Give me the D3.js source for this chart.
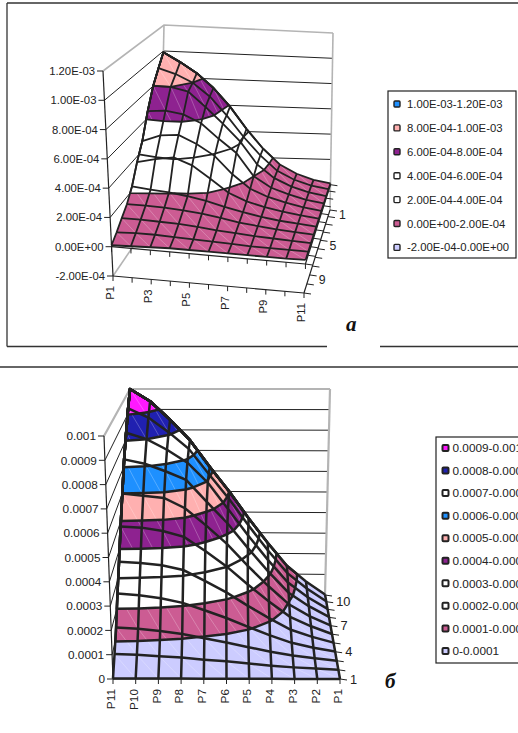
<!DOCTYPE html>
<meta charset="utf-8">
<style>
body { margin: 0; background: #fff; overflow: hidden; }
text { font-family: "Liberation Sans", Arial, sans-serif; fill: #222; }
.mark { font-family: "Liberation Serif", serif; font-weight: bold; font-style: italic; font-size: 21px; fill: #111; }
</style>
<svg id="chart" width="518" height="733"></svg>
<script src="https://d3js.org/d3.v7.min.js"></script>
<script>
// chart a: rows go from the back wall to the front, columns P1..P11, values in 1E-04
var categoriesA = ["P1","P2","P3","P4","P5","P6","P7","P8","P9","P10","P11"]
var depthLabelsA = ["1","","","","5","","","","9","",""]
var zTicksA = [-2, 0, 2, 4, 6, 8, 10, 12]
var zLabelsA = ["-2.00E-04","0.00E+00","2.00E-04","4.00E-04","6.00E-04","8.00E-04","1.00E-03","1.20E-03"]
var surfaceA = [
  [9.9, 9.2, 8.4, 7.3, 5.9, 4.2, 2.7, 1.5, 0.8, 0.35, 0.1],
  [9.0, 8.6, 8.0, 7.0, 5.6, 4.0, 2.6, 1.45, 0.8, 0.38, 0.14],
  [8.0, 8.0, 7.7, 6.6, 5.4, 4.1, 2.4, 1.4, 0.8, 0.4, 0.16],
  [6.5, 6.6, 6.4, 5.8, 4.7, 3.7, 2.0, 1.2, 0.75, 0.4, 0.18],
  [4.7, 5.2, 5.3, 4.7, 3.9, 2.6, 1.6, 1.05, 0.7, 0.4, 0.2],
  [3.6, 3.9, 4.1, 3.6, 2.7, 1.75, 1.2, 0.85, 0.6, 0.4, 0.22],
  [2.3, 2.15, 2.05, 1.85, 1.6, 1.25, 0.95, 0.7, 0.5, 0.38, 0.24],
  [1.5, 1.5, 1.45, 1.35, 1.2, 1.0, 0.75, 0.6, 0.45, 0.35, 0.26],
  [1.0, 1.0, 0.95, 0.9, 0.8, 0.65, 0.55, 0.45, 0.38, 0.32, 0.26],
  [0.5, 0.55, 0.55, 0.5, 0.45, 0.4, 0.35, 0.3, 0.28, 0.27, 0.26],
  [0.1, 0.15, 0.2, 0.25, 0.25, 0.25, 0.25, 0.25, 0.25, 0.25, 0.28]
]
var thresholdsA = [2, 4, 6, 8, 10]
var bandColorsA = ["#cc5c93", "#ffffff", "#ffffff", "#8e2290", "#ffb0b0", "#1e90ff"]
var legendLabelsA = ["1.00E-03-1.20E-03","8.00E-04-1.00E-03","6.00E-04-8.00E-04","4.00E-04-6.00E-04","2.00E-04-4.00E-04","0.00E+00-2.00E-04","-2.00E-04-0.00E+00"]
var legendColorsA = ["#1e90ff","#ffb0b0","#8e2290","#ffffff","#ffffff","#cc5c93","#ccccff"]

// chart b: same layout, columns run P11..P1 left to right
var categoriesB = ["P11","P10","P9","P8","P7","P6","P5","P4","P3","P2","P1"]
var depthLabelsB = ["","10","","","7","","","4","","","1"]
var zTicksB = [0, 1, 2, 3, 4, 5, 6, 7, 8, 9, 10]
var zLabelsB = ["0","0.0001","0.0002","0.0003","0.0004","0.0005","0.0006","0.0007","0.0008","0.0009","0.001"]
var surfaceB = [
  [10, 9.4, 8.5, 7.5, 6.2, 5, 3.7, 2.5, 1.4, 0.65, 0.02],
  [9.25, 8.8, 8.1, 7.3, 6.09, 4.92, 3.63, 2.43, 1.35, 0.62, 0.02],
  [8.3, 8.0, 7.5, 6.89, 5.95, 4.7, 3.46, 2.3, 1.25, 0.56, 0.02],
  [7.3, 7.1, 6.75, 6.35, 5.33, 4.34, 3.19, 2.1, 1.13, 0.51, 0.02],
  [6.0, 5.9, 5.8, 5.33, 4.55, 3.71, 2.71, 1.78, 0.95, 0.42, 0.01],
  [4.8, 4.75, 4.6, 4.34, 3.71, 3.02, 2.21, 1.45, 0.77, 0.35, 0.01],
  [3.55, 3.5, 3.4, 3.19, 2.71, 2.21, 1.62, 1.07, 0.57, 0.26, 0.01],
  [2.5, 2.43, 2.3, 2.1, 1.78, 1.45, 1.07, 0.7, 0.38, 0.17, 0.01],
  [1.4, 1.35, 1.25, 1.13, 0.95, 0.77, 0.57, 0.38, 0.22, 0.1, 0],
  [0.65, 0.62, 0.56, 0.51, 0.42, 0.35, 0.26, 0.17, 0.1, 0.05, 0],
  [0.02, 0.02, 0.02, 0.02, 0.01, 0.01, 0.01, 0.01, 0, 0, 0]
]
var thresholdsB = [1, 2, 3, 4, 5, 6, 7, 8, 9]
var bandColorsB = ["#ccccff", "#cc5c93", "#ffffff", "#ffffff", "#8e2290", "#ffb0b0", "#1e90ff", "#ffffff", "#2020b0", "#ff19ff"]
var legendLabelsB = ["0.0009-0.001","0.0008-0.0009","0.0007-0.0008","0.0006-0.0007","0.0005-0.0006","0.0004-0.0005","0.0003-0.0004","0.0002-0.0003","0.0001-0.0002","0-0.0001"]
var legendColorsB = ["#ff19ff","#2020b0","#ffffff","#1e90ff","#ffb0b0","#8e2290","#ffffff","#ffffff","#cc5c93","#ccccff"]

var svg = d3.select("#chart")
var ink = "#222"
var wall = "#b4b4b4"

function lerp(a, b, t) { return [a[0] + (b[0] - a[0]) * t, a[1] + (b[1] - a[1]) * t] }

// trilinear box: the eight corners of the chart cube on screen
function makeProjection(box, zExtent) {
  var u = d3.scaleLinear().domain([0, 10]).range([0, 1])
  var v = d3.scalePow().exponent(1.1).domain([0, 10]).range([0, 1])
  var w = d3.scaleLinear().domain(zExtent).range([0, 1])
  return function(i, j, z) {
    var t = w(z)
    var bl = lerp(box.backLeft[0], box.backLeft[1], t)
    var br = lerp(box.backRight[0], box.backRight[1], t)
    var fl = lerp(box.frontLeft[0], box.frontLeft[1], t)
    var fr = lerp(box.frontRight[0], box.frontRight[1], t)
    return lerp(lerp(bl, br, u(i)), lerp(fl, fr, u(i)), v(j))
  }
}

function drawSurfaceChart(cfg) {
  var g = svg.append("g")
  var grid = cfg.surface
  var n = grid.length
  var zMin = cfg.zTicks[0], zMax = cfg.zTicks[cfg.zTicks.length - 1]
  var project = makeProjection(cfg.box, [zMin, zMax])
  var line = d3.line()
  var idx = d3.range(n)

  function seg(points, color, width) {
    g.append("path").attr("d", line(points)).attr("fill", "none")
      .attr("stroke", color).attr("stroke-width", width)
  }

  // walls
  cfg.zTicks.forEach(function(z, k) {
    if (z == zMin) return
    if (z == zMax) return
    seg([project(0, 10, z), project(0, 0, z), project(10, 0, z)], ink, 1)
  })
  seg([project(0, 10, zMax), project(0, 0, zMax), project(10, 0, zMax)], wall, cfg.wallWidth)
  seg([project(0, 0, zMax), project(0, 0, zMin)], wall, cfg.wallWidth)
  seg([project(10, 0, zMax), project(10, 0, zMin)], wall, cfg.wallWidth)
  seg([project(0, 10, zMin), project(0, 0, zMin)], wall, cfg.wallWidth)

  // axes
  seg([project(0, 10, zMax), project(0, 10, zMin)], ink, 1.2)
  cfg.zTicks.forEach(function(z, k) {
    var p = project(0, 10, z)
    seg([p, [p[0] - 6, p[1]]], ink, 1)
    g.append("text").attr("x", p[0] - 8).attr("y", p[1]).attr("dy", "0.36em")
      .attr("text-anchor", "end").style("font-size", cfg.fontSize + "px").text(cfg.zLabels[k])
  })
  var floors = zMin < 0 ? [zMin, 0] : [0]
  floors.forEach(function(z) {
    seg([project(0, 10, z), project(10, 10, z)], ink, 1.2)
    seg([project(10, 10, z), project(10, 0, z)], ink, 1.2)
    idx.forEach(function(i) {
      var p = project(i, 10, z)
      seg([p, [p[0], p[1] + 5]], ink, 1)
      var q = project(10, i, z)
      seg([q, [q[0] + 7, q[1] + 1]], ink, 1)
    })
  })
  idx.forEach(function(i) {
    if (!cfg.categoryShown(i)) return
    var p = project(i, 10, zMin)
    g.append("text").attr("transform", "translate(" + (p[0] + cfg.catOffset[0]) + "," + (p[1] + cfg.catOffset[1]) + ") rotate(-90)")
      .attr("text-anchor", "end").attr("dy", "0.36em").style("font-size", cfg.fontSize + "px").text(cfg.categories[i])
  })
  cfg.depthLabels.forEach(function(label, j) {
    if (!label) return
    var p = project(10, j, zMin)
    g.append("text").attr("x", p[0] + cfg.depthOffset[0]).attr("y", p[1] + cfg.depthOffset[1]).attr("dy", "0.36em")
      .style("font-size", (cfg.fontSize + 1) + "px").text(label)
  })

  // surface: base band, then each superlevel region from d3.contours over it
  function height(i, j) {
    var i0 = Math.min(Math.floor(i), n - 2), j0 = Math.min(Math.floor(j), n - 2)
    var s = i - i0, t = j - j0
    return (grid[j0][i0] * (1 - s) + grid[j0][i0 + 1] * s) * (1 - t) +
           (grid[j0 + 1][i0] * (1 - s) + grid[j0 + 1][i0 + 1] * s) * t
  }
  var clampIdx = function(c) { return Math.max(0, Math.min(n - 1, c - 0.5)) }
  function ringPath(ring) {
    return line(ring.map(function(c) {
      var i = clampIdx(c[0]), j = clampIdx(c[1])
      return project(i, j, height(i, j))
    })) + "Z"
  }
  var outline = idx.map(function(i) { return project(i, 0, grid[0][i]) })
    .concat(idx.map(function(j) { return project(n - 1, j, grid[j][n - 1]) }))
    .concat(idx.slice().reverse().map(function(i) { return project(i, n - 1, grid[n - 1][i]) }))
    .concat(idx.slice().reverse().map(function(j) { return project(0, j, grid[j][0]) }))
  g.append("path").attr("d", line(outline) + "Z").attr("fill", cfg.bandColors[0])

  var contours = d3.contours().size([n, n]).thresholds(cfg.thresholds)(d3.merge(grid))
  var bandLines = []
  contours.forEach(function(c, k) {
    var d = c.coordinates.map(function(poly) { return poly.map(ringPath).join("") }).join("")
    if (!d) return
    g.append("path").attr("d", d).attr("fill", cfg.bandColors[k + 1]).attr("fill-rule", "evenodd")
    bandLines.push(d)
  })

  // faint cell diagonals, the surface triangulation
  idx.slice(0, n - 1).forEach(function(j) {
    idx.slice(0, n - 1).forEach(function(i) {
      g.append("path").attr("d", line([project(i, j, grid[j][i]), project(i + 1, j + 1, grid[j + 1][i + 1])]))
        .attr("stroke", "#fff").attr("stroke-opacity", 0.35).attr("stroke-width", 0.7).attr("fill", "none")
    })
  })

  bandLines.forEach(function(d) {
    g.append("path").attr("d", d).attr("fill", "none").attr("stroke", ink)
      .attr("stroke-width", cfg.gridWidth).attr("stroke-linejoin", "round")
  })
  idx.forEach(function(j) {
    seg(idx.map(function(i) { return project(i, j, grid[j][i]) }), ink, cfg.gridWidth)
    seg(idx.map(function(i) { return project(j, i, grid[i][j]) }), ink, cfg.gridWidth)
  })

  // legend
  var lg = cfg.legend
  g.append("rect").attr("x", lg.x).attr("y", lg.y).attr("width", lg.w).attr("height", lg.h)
    .attr("fill", "#fff").attr("stroke", ink).attr("stroke-width", 1.2)
  cfg.legendLabels.forEach(function(label, k) {
    var y = lg.first + lg.step * k
    g.append("rect").attr("x", lg.swatch - 3).attr("y", y - 3).attr("width", 6).attr("height", 6).attr("rx", 1)
      .attr("fill", cfg.legendColors[k]).attr("stroke", ink).attr("stroke-width", lg.swatchStroke)
    g.append("text").attr("x", lg.text).attr("y", y).attr("dy", "0.36em")
      .style("font-size", lg.fontSize + "px").text(label)
  })
}

drawSurfaceChart({
  surface: surfaceA, thresholds: thresholdsA, bandColors: bandColorsA,
  zTicks: zTicksA, zLabels: zLabelsA, categories: categoriesA, depthLabels: depthLabelsA,
  categoryShown: function(i) { return i % 2 == 0 },
  box: {
    backLeft: [[160, 207], [164, 25]], backRight: [[330, 210], [333, 33]],
    frontLeft: [[113, 276], [103, 71]], frontRight: [[304, 293], [314, 90]]
  },
  wallWidth: 1.6, gridWidth: 1.8, fontSize: 11.3,
  catOffset: [-3, 10], depthOffset: [9, 5],
  legendLabels: legendLabelsA, legendColors: legendColorsA,
  legend: { x: 388, y: 91, w: 128, h: 167, first: 104, step: 23.9, swatch: 397, text: 407, fontSize: 11.3, swatchStroke: 1.4 }
})

drawSurfaceChart({
  surface: surfaceB, thresholds: thresholdsB, bandColors: bandColorsB,
  zTicks: zTicksB, zLabels: zLabelsB, categories: categoriesB, depthLabels: depthLabelsB,
  categoryShown: function() { return true },
  box: {
    backLeft: [[132, 593], [130, 389]], backRight: [[325, 595], [330, 389]],
    frontLeft: [[113, 679], [104, 436]], frontRight: [[340, 679], [331, 436]]
  },
  wallWidth: 2.2, gridWidth: 2.5, fontSize: 11.8,
  catOffset: [-2, 10], depthOffset: [10, 0],
  legendLabels: legendLabelsB, legendColors: legendColorsB,
  legend: { x: 436, y: 437, w: 90, h: 226, first: 448, step: 22.55, swatch: 445.5, text: 452.5, fontSize: 11.8, swatchStroke: 2 }
})

// page frames
var frame = [
  [[7, 3], [518, 3]], [[7, 3], [7, 346.5]], [[7, 346.5], [327, 346.5]], [[380, 346.5], [518, 346.5]],
  [[0, 367], [518, 367]]
]
frame.forEach(function(s) {
  svg.append("path").attr("d", d3.line()(s)).attr("stroke", "#333").attr("stroke-width", 1.3).attr("fill", "none")
})
svg.append("text").attr("class", "mark").attr("x", 346).attr("y", 331).text("а")
svg.append("text").attr("class", "mark").attr("x", 385).attr("y", 688).text("б")
</script>
